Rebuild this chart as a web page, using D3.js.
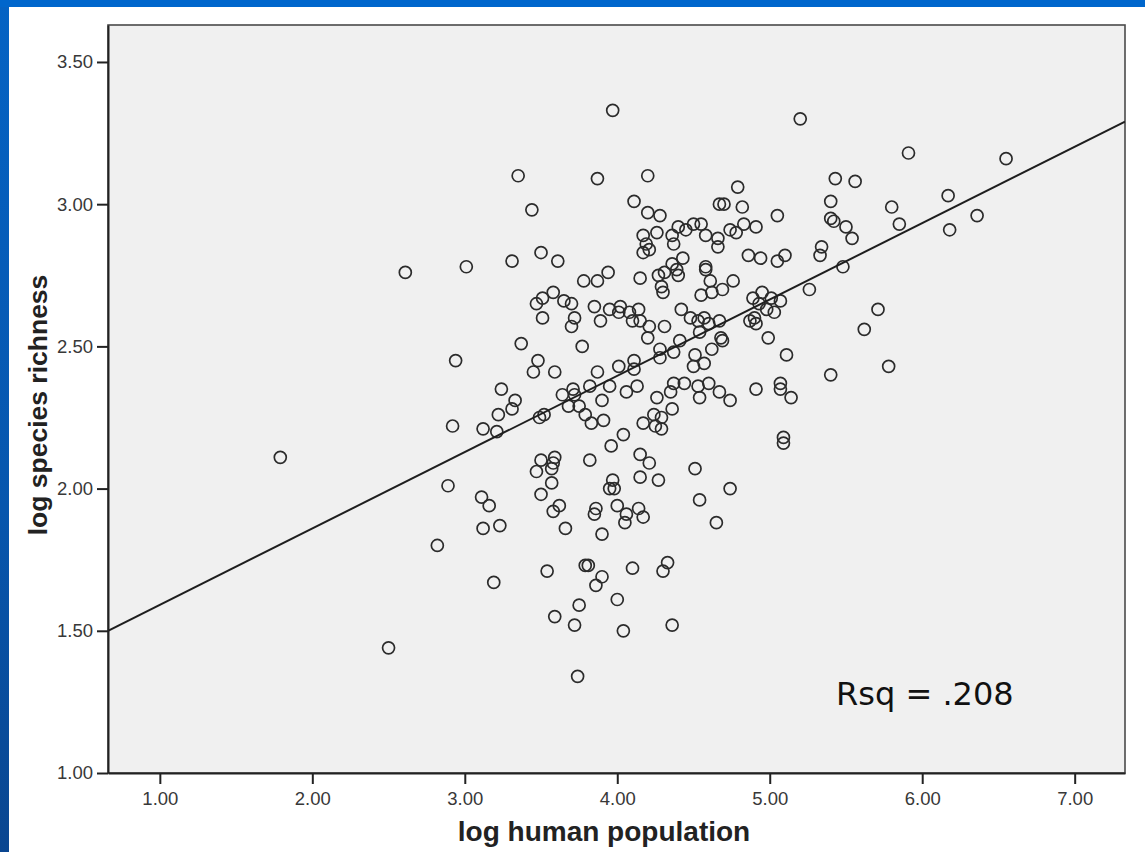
<!DOCTYPE html>
<html>
<head>
<meta charset="utf-8">
<script src="https://cdn.jsdelivr.net/npm/d3@7"></script>
<style>
  html, body { margin: 0; padding: 0; background: #ffffff; }
  svg { display: block; }
</style>
</head>
<body>
<svg id="chart" width="1145" height="852"></svg>
<script>
// log10 human population per site
const popLog = [
  3.97,3.35,3.87,3.44,4.11,4.17,4.17,3.50,3.61,3.31,3.01,2.61,3.94,3.87,3.78,4.15,
  3.58,3.51,3.47,3.65,3.70,3.85,3.95,4.02,4.01,4.08,4.14,4.10,4.15,3.51,3.72,3.70,
  3.89,3.37,3.77,2.94,3.48,3.45,3.59,3.87,4.01,4.11,4.11,3.95,
  3.24,3.33,3.31,3.22,2.92,3.12,3.21,3.49,3.52,3.64,3.71,3.72,3.68,3.75,3.82,3.79,
  3.83,3.90,3.91,4.06,4.13,4.04,3.96,4.17,4.15,4.15,3.82,3.50,3.59,3.58,3.47,3.57,
  3.57,3.50,2.89,3.11,3.16,3.12,3.23,3.58,3.62,3.66,3.97,3.95,3.98,3.86,3.85,4.00,
  4.06,4.05,4.14,4.17,3.90,2.82,3.19,3.54,3.79,3.81,3.90,3.86,4.10,4.00,3.75,3.59,
  3.72,4.04,2.50,3.74,
  5.20,5.91,4.20,4.79,5.43,5.56,5.40,5.80,5.85,4.67,4.70,4.82,4.20,4.28,5.05,5.40,
  5.42,5.50,5.54,5.34,5.33,4.26,4.36,4.40,4.45,4.50,4.55,4.58,4.66,4.66,4.74,4.78,
  4.83,4.91,4.37,4.19,4.21,4.43,4.86,4.94,5.05,5.10,5.48,4.27,4.31,4.36,4.39,4.40,
  4.29,4.30,4.58,4.58,4.61,4.76,4.55,4.62,4.69,5.26,4.89,4.95,5.01,5.07,4.93,4.98,
  5.03,4.90,4.87,4.91,4.42,4.48,4.53,4.57,4.60,4.67,4.21,4.31,4.20,4.54,4.68,4.69,
  4.62,4.99,5.71,5.62,5.78,5.40,5.11,4.41,4.37,4.28,4.28,4.51,4.50,4.57,4.44,4.37,
  4.91,5.07,5.07,
  4.26,4.35,4.36,4.24,4.29,4.25,4.29,4.53,4.60,4.54,4.67,4.74,5.14,5.09,5.09,4.51,
  4.74,4.54,4.65,4.21,4.27,4.33,4.30,4.36,
  1.79,6.17,6.18,6.36,6.55
];

// log10 species richness per site
const richLog = [
  3.33,3.10,3.09,2.98,3.01,2.89,2.83,2.83,2.80,2.80,2.78,2.76,2.76,2.73,2.73,2.74,
  2.69,2.67,2.65,2.66,2.65,2.64,2.63,2.64,2.62,2.62,2.63,2.59,2.59,2.60,2.60,2.57,
  2.59,2.51,2.50,2.45,2.45,2.41,2.41,2.41,2.43,2.45,2.42,2.36,
  2.35,2.31,2.28,2.26,2.22,2.21,2.20,2.25,2.26,2.33,2.35,2.33,2.29,2.29,2.36,2.26,
  2.23,2.31,2.24,2.34,2.36,2.19,2.15,2.23,2.12,2.04,2.10,2.10,2.11,2.09,2.06,2.07,
  2.02,1.98,2.01,1.97,1.94,1.86,1.87,1.92,1.94,1.86,2.03,2.00,2.00,1.93,1.91,1.94,
  1.91,1.88,1.93,1.90,1.84,1.80,1.67,1.71,1.73,1.73,1.69,1.66,1.72,1.61,1.59,1.55,
  1.52,1.50,1.44,1.34,
  3.30,3.18,3.10,3.06,3.09,3.08,3.01,2.99,2.93,3.00,3.00,2.99,2.97,2.96,2.96,2.95,
  2.94,2.92,2.88,2.85,2.82,2.90,2.89,2.92,2.91,2.93,2.93,2.89,2.88,2.85,2.91,2.90,
  2.93,2.92,2.86,2.86,2.84,2.81,2.82,2.81,2.80,2.82,2.78,2.75,2.76,2.79,2.77,2.75,
  2.71,2.69,2.78,2.77,2.73,2.73,2.68,2.69,2.70,2.70,2.67,2.69,2.67,2.66,2.65,2.63,
  2.62,2.60,2.59,2.58,2.63,2.60,2.59,2.60,2.58,2.59,2.57,2.57,2.53,2.55,2.53,2.52,
  2.49,2.53,2.63,2.56,2.43,2.40,2.47,2.52,2.48,2.49,2.46,2.47,2.43,2.44,2.37,2.37,
  2.35,2.37,2.35,
  2.32,2.34,2.28,2.26,2.25,2.22,2.21,2.36,2.37,2.32,2.34,2.31,2.32,2.18,2.16,2.07,
  2.00,1.96,1.88,2.09,2.03,1.74,1.71,1.52,
  2.11,3.03,2.91,2.96,3.16
];

const xTicks = [1, 2, 3, 4, 5, 6, 7];
const yTicks = [1.0, 1.5, 2.0, 2.5, 3.0, 3.5];
const xDomain = [0.66, 7.33];
const yDomain = [1.0, 3.63];

// least-squares fit reported with the chart
const fitIntercept = 1.323;
const fitSlope = 0.2684;
const rsqLabel = "Rsq = .208";

const xTitle = "log human population";
const yTitle = "log species richness";

const svg = d3.select("#chart");
const W = 1145, H = 852;
const plot = { left: 108, top: 25, right: 1125, bottom: 773 };

// slide background: blue band on top and left
const defs = svg.append("defs");
const grad = defs.append("linearGradient")
  .attr("id", "sideBlue").attr("x1", 0).attr("y1", 0).attr("x2", 0).attr("y2", 1);
grad.append("stop").attr("offset", "0%").attr("stop-color", "#0563c4");
grad.append("stop").attr("offset", "60%").attr("stop-color", "#0756ad");
grad.append("stop").attr("offset", "100%").attr("stop-color", "#0a4690");

svg.append("rect").attr("x", 0).attr("y", 0).attr("width", W).attr("height", H).attr("fill", "#ffffff");
svg.append("rect").attr("x", 0).attr("y", 0).attr("width", W).attr("height", 7).attr("fill", "#0066cc");
svg.append("rect").attr("x", 0).attr("y", 0).attr("width", 9).attr("height", H).attr("fill", "url(#sideBlue)");
svg.append("rect").attr("x", 0).attr("y", 0).attr("width", 9).attr("height", 7).attr("fill", "#0066cc");

const x = d3.scaleLinear().domain(xDomain).range([plot.left, plot.right]);
const y = d3.scaleLinear().domain(yDomain).range([plot.bottom, plot.top]);

// plot area
svg.append("rect")
  .attr("x", plot.left).attr("y", plot.top)
  .attr("width", plot.right - plot.left).attr("height", plot.bottom - plot.top)
  .attr("fill", "#f0f0f0").attr("stroke", "#4a4a4a").attr("stroke-width", 1.6);

defs.append("clipPath").attr("id", "plotClip")
  .append("rect")
  .attr("x", plot.left).attr("y", plot.top)
  .attr("width", plot.right - plot.left).attr("height", plot.bottom - plot.top);

const inner = svg.append("g").attr("clip-path", "url(#plotClip)");

// points
const pts = popLog.map((v, i) => ({ px: v, ry: richLog[i] }));
inner.append("g").selectAll("circle")
  .data(pts)
  .join("circle")
  .attr("cx", d => x(d.px))
  .attr("cy", d => y(d.ry))
  .attr("r", 6)
  .attr("fill", "none")
  .attr("stroke", "#2b2b2b")
  .attr("stroke-width", 1.7);

// regression line
const fitLine = d3.line().x(d => x(d)).y(d => y(fitIntercept + fitSlope * d));
inner.append("path")
  .datum(xDomain)
  .attr("d", fitLine)
  .attr("fill", "none")
  .attr("stroke", "#1e1e1e")
  .attr("stroke-width", 2);

// axes
const fmt = d3.format(".2f");
const axisFont = "'Liberation Sans', Arial, sans-serif";

const gx = svg.append("g")
  .attr("transform", `translate(0,${plot.bottom})`)
  .call(d3.axisBottom(x).tickValues(xTicks).tickFormat(fmt).tickSize(11).tickPadding(8).tickSizeOuter(0));
const gy = svg.append("g")
  .attr("transform", `translate(${plot.left},0)`)
  .call(d3.axisLeft(y).tickValues(yTicks).tickFormat(fmt).tickSize(11).tickPadding(4).tickSizeOuter(0));

[gx, gy].forEach(g => {
  g.select(".domain").attr("stroke", "#222").attr("stroke-width", 2);
  g.selectAll(".tick line").attr("stroke", "#222").attr("stroke-width", 2);
  g.selectAll(".tick text")
    .attr("fill", "#383838")
    .style("font-family", axisFont)
    .style("font-size", "18.5px");
});

// axis titles
svg.append("text")
  .attr("x", 604)
  .attr("y", 841)
  .attr("text-anchor", "middle")
  .style("font-family", axisFont)
  .style("font-weight", "bold")
  .style("font-size", "28px")
  .attr("fill", "#222")
  .text(xTitle);

svg.append("text")
  .attr("transform", `translate(47,405) rotate(-90)`)
  .attr("text-anchor", "middle")
  .style("font-family", axisFont)
  .style("font-weight", "bold")
  .style("font-size", "26.5px")
  .attr("fill", "#222")
  .text(yTitle);

// R-squared annotation
svg.append("text")
  .attr("x", 836)
  .attr("y", 705)
  .style("font-family", "'DejaVu Sans', Verdana, sans-serif")
  .style("font-size", "32px")
  .attr("fill", "#111")
  .text(rsqLabel);
</script>
</body>
</html>
